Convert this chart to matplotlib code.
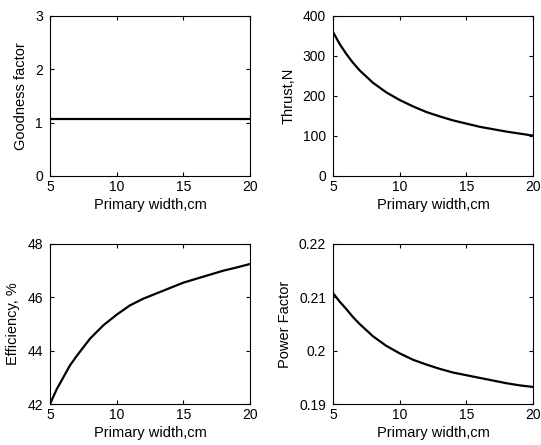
import numpy as np
import matplotlib
matplotlib.use("Agg")
import matplotlib.pyplot as plt

plt.rcParams['font.family'] = ['Liberation Sans', 'DejaVu Sans']
plt.rcParams['font.size'] = 10

# data (primary width in cm)
width = [5, 5.5, 6, 6.5, 7, 8, 9, 10, 11, 12, 13, 14, 15, 16, 17, 18, 19, 20]
goodness = [1.06] * len(width)
thrust = [360, 330, 305, 283, 264, 233, 209, 190, 174, 160, 149, 139, 131, 123, 117, 111, 106, 101]
efficiency = [42.0, 42.55, 43.0, 43.45, 43.8, 44.45, 44.95, 45.35, 45.7, 45.95, 46.15, 46.35,
              46.55, 46.7, 46.85, 47.0, 47.12, 47.25]
power_factor = [0.2108, 0.2092, 0.2078, 0.2063, 0.2050, 0.2027, 0.2009, 0.1995, 0.1983, 0.1974,
                0.1966, 0.1959, 0.1954, 0.1949, 0.1944, 0.1939, 0.1935, 0.1932]

fig = plt.figure(figsize=(5.41, 4.45), dpi=100)

panels = [
    ([0.0924, 0.6045, 0.3697, 0.3596], goodness, 'Goodness factor', (0, 3), [0, 1, 2, 3], None),
    ([0.6155, 0.6045, 0.3697, 0.3596], thrust, 'Thrust,N', (0, 400), [0, 100, 200, 300, 400], None),
    ([0.0924, 0.0921, 0.3697, 0.3596], efficiency, 'Efficiency, %', (42, 48), [42, 44, 46, 48], None),
    ([0.6155, 0.0921, 0.3697, 0.3596], power_factor, 'Power Factor', (0.19, 0.22), [0.19, 0.2, 0.21, 0.22],
     ['0.19', '0.2', '0.21', '0.22']),
]

for rect, vals, ylab, ylim, yticks, ylabels in panels:
    ax = fig.add_axes(rect)
    ax.plot(width, vals, color='black', linewidth=1.6)
    ax.set_xlim(5, 20)
    ax.set_ylim(*ylim)
    ax.set_xticks([5, 10, 15, 20])
    ax.set_yticks(yticks)
    if ylabels:
        ax.set_yticklabels(ylabels)
    ax.tick_params(direction='in', top=True, right=True, length=3, width=0.8)
    ax.tick_params(axis='x', pad=3)
    ax.tick_params(axis='y', pad=5)
    for s in ax.spines.values():
        s.set_linewidth(0.8)
    ax.set_xlabel('Primary width,cm', labelpad=2.5, fontsize=10.5)
    ax.set_ylabel(ylab, labelpad=5, fontsize=10.5)

fig.savefig('out.png', dpi=100)
